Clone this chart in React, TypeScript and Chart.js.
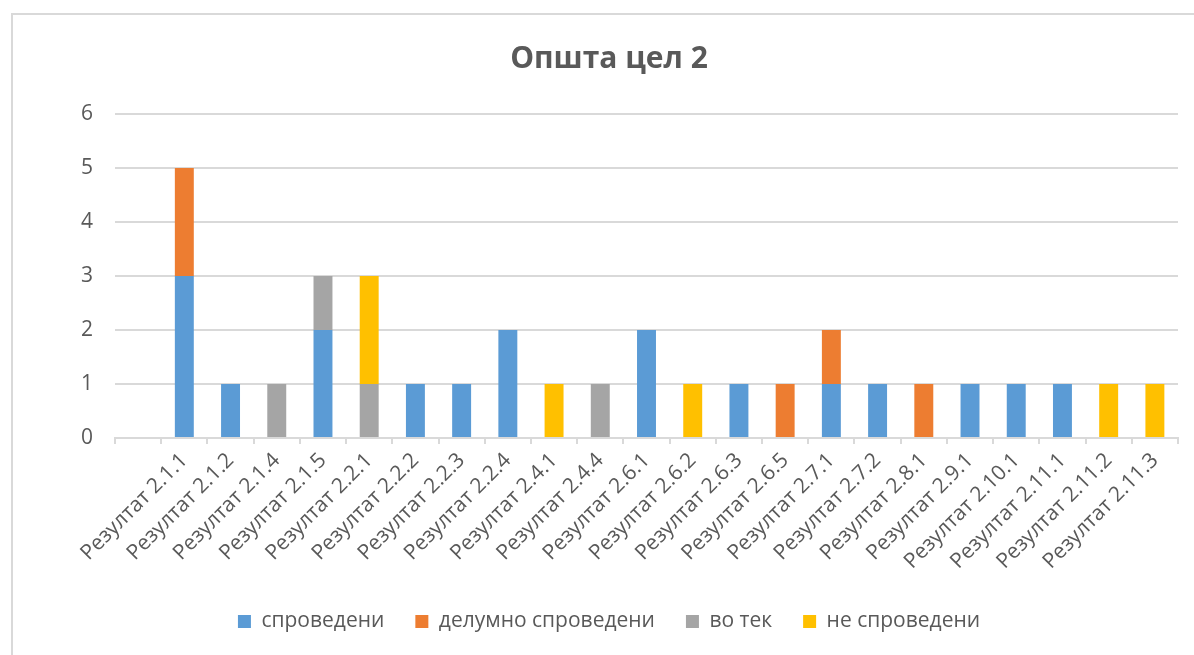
import React, { useEffect, useRef } from "react";
import { Chart, registerables } from "chart.js";

Chart.register(...registerables);

const categories = [
  "",
  "Резултат 2.1.1",
  "Резултат 2.1.2",
  "Резултат 2.1.4",
  "Резултат 2.1.5",
  "Резултат 2.2.1",
  "Резултат 2.2.2",
  "Резултат 2.2.3",
  "Резултат 2.2.4",
  "Резултат 2.4.1",
  "Резултат 2.4.4",
  "Резултат 2.6.1",
  "Резултат 2.6.2",
  "Резултат 2.6.3",
  "Резултат 2.6.5",
  "Резултат 2.7.1",
  "Резултат 2.7.2",
  "Резултат 2.8.1",
  "Резултат 2.9.1",
  "Резултат 2.10.1",
  "Резултат 2.11.1",
  "Резултат 2.11.2",
  "Резултат 2.11.3",
];

const sprovedeni = [null, 3, 1, null, 2, null, 1, 1, 2, null, null, 2, null, 1, null, 1, 1, null, 1, 1, 1, null, null];
const delumnoSprovedeni = [null, 2, null, null, null, null, null, null, null, null, null, null, null, null, 1, 1, null, 1, null, null, null, null, null];
const voTek = [null, null, null, 1, 1, 1, null, null, null, null, 1, null, null, null, null, null, null, null, null, null, null, null, null];
const neSprovedeni = [null, null, null, null, null, 2, null, null, null, 1, null, null, 1, null, null, null, null, null, null, null, null, 1, 1];

const yTicks = [0, 1, 2, 3, 4, 5, 6];

const TEXT = "#595959";
const GRID = "#D9D9D9";
const FONT = "'Open Sans', 'DejaVu Sans', sans-serif";

const CANVAS_W = 1218;
const CANVAS_H = 655;

export default function App() {
  const ref = useRef<HTMLCanvasElement | null>(null);

  useEffect(() => {
    if (!ref.current) return;
    const chart = new Chart(ref.current, {
      type: "bar",
      data: {
        labels: categories,
        datasets: [
          { label: "спроведени", data: sprovedeni, backgroundColor: "#5B9BD5" },
          { label: "делумно спроведени", data: delumnoSprovedeni, backgroundColor: "#ED7D31" },
          { label: "во тек", data: voTek, backgroundColor: "#A5A5A5" },
          { label: "не спроведени", data: neSprovedeni, backgroundColor: "#FFC000" },
        ],
      },
      options: {
        responsive: false,
        animation: false,
        devicePixelRatio: 1,
        datasets: {
          bar: { barPercentage: 0.41, categoryPercentage: 1, borderWidth: 0 },
        },
        layout: { padding: { top: 0, left: 0, right: 0, bottom: 13 } },
        plugins: {
          tooltip: { enabled: false },
          title: {
            display: true,
            text: "Општа цел 2",
            color: TEXT,
            font: { family: FONT, size: 30, weight: "bold", lineHeight: 1.2 },
            padding: { top: 41, bottom: 37 },
          },
          legend: {
            display: true,
            position: "bottom",
            labels: {
              color: TEXT,
              font: { family: FONT, size: 21 },
              boxWidth: 13,
              boxHeight: 13,
              padding: 31,
            },
          },
        },
        scales: {
          x: {
            stacked: true,
            grid: {
              offset: true,
              drawOnChartArea: false,
              drawTicks: true,
              tickLength: 6,
              color: GRID,
              lineWidth: 2,
            },
            border: { display: true, color: GRID, width: 2 },
            ticks: {
              color: TEXT,
              font: { family: FONT, size: 21 },
              autoSkip: false,
              maxRotation: 45,
              minRotation: 45,
              padding: 4,
            },
            afterFit: (scale: any) => {
              scale.height = 142;
            },
          },
          y: {
            stacked: true,
            min: 0,
            max: 6,
            afterBuildTicks: (scale: any) => {
              scale.ticks = yTicks.map((v) => ({ value: v }));
            },
            grid: { color: GRID, lineWidth: 2, drawTicks: false },
            border: { display: false },
            ticks: {
              color: TEXT,
              font: { family: FONT, size: 21 },
              padding: 22,
            },
            afterFit: (scale: any) => {
              scale.width = 115;
            },
          },
          yRight: {
            type: "linear",
            position: "right",
            display: true,
            grid: { display: false, drawTicks: false },
            border: { display: false },
            ticks: { display: false },
            afterFit: (scale: any) => {
              scale.width = CANVAS_W - 1178;
            },
          },
        },
      },
    });
    return () => chart.destroy();
  }, []);

  return (
    <div
      style={{
        position: "fixed",
        left: 0,
        top: 0,
        width: 1194,
        height: 655,
        overflow: "hidden",
        background: "#fff",
      }}
    >
      <div
        style={{
          position: "absolute",
          left: 11,
          top: 13,
          width: 1300,
          height: 800,
          border: "2px solid #D9D9D9",
          boxSizing: "border-box",
        }}
      />
      <canvas
        ref={ref}
        width={CANVAS_W}
        height={CANVAS_H}
        style={{ position: "absolute", left: 0, top: 0, width: CANVAS_W, height: CANVAS_H }}
      />
    </div>
  );
}
